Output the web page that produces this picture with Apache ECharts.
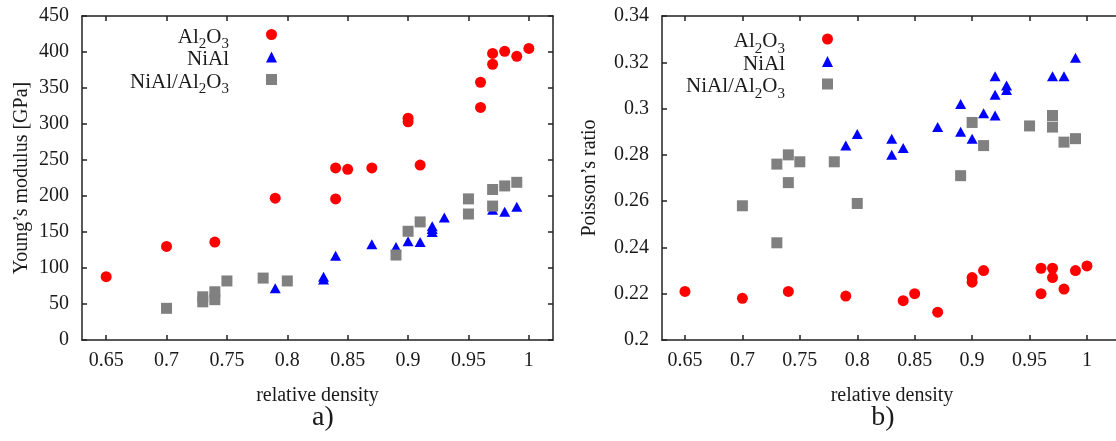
<!DOCTYPE html>
<html>
<head>
<meta charset="utf-8">
<title>Young's modulus and Poisson's ratio vs relative density</title>
<script src="https://cdn.jsdelivr.net/npm/echarts@6/dist/echarts.min.js"></script>
<style>
  html, body { margin: 0; padding: 0; background: #fff; }
  #chart { width: 1116px; height: 441px; }
</style>
</head>
<body>
<div id="chart"></div>
<script>
// ---- tick labels ----
const densityTicks = [0.65, 0.7, 0.75, 0.8, 0.85, 0.9, 0.95, 1];

// ---- a) Young's modulus [GPa] ----
const al2o3DensityE = [0.65, 0.70, 0.74, 0.79, 0.84, 0.84, 0.85, 0.87, 0.90, 0.90, 0.91, 0.96, 0.96, 0.97, 0.97, 0.98, 0.99, 1.00];
const al2o3Modulus  = [88, 130, 136, 197, 239, 196, 237, 239, 308, 303, 243, 358, 323, 398, 383, 401, 394, 405];

const nialDensityE = [0.79, 0.83, 0.83, 0.84, 0.87, 0.89, 0.90, 0.91, 0.92, 0.92, 0.92, 0.93, 0.97, 0.98, 0.99];
const nialModulus  = [72, 88, 84, 117, 133, 129, 137, 136, 158, 154, 150, 170, 181, 178, 185];

const compDensityE = [0.70, 0.73, 0.73, 0.74, 0.74, 0.75, 0.78, 0.80, 0.89, 0.90, 0.91, 0.95, 0.95, 0.97, 0.97, 0.98, 0.99];
const compModulus  = [44, 60, 53, 67, 56, 82, 86, 82, 118, 151, 164, 196, 175, 209, 186, 214, 219];

// ---- b) Poisson's ratio ----
const al2o3DensityNu = [0.65, 0.70, 0.74, 0.79, 0.84, 0.85, 0.87, 0.90, 0.90, 0.91, 0.96, 0.96, 0.97, 0.97, 0.98, 0.99, 1.00];
const al2o3Poisson   = [0.221, 0.218, 0.221, 0.219, 0.217, 0.220, 0.212, 0.227, 0.225, 0.230, 0.231, 0.220, 0.231, 0.227, 0.222, 0.230, 0.232];

const nialDensityNu = [0.79, 0.80, 0.83, 0.83, 0.84, 0.87, 0.89, 0.89, 0.90, 0.91, 0.92, 0.92, 0.92, 0.93, 0.93, 0.97, 0.98, 0.99];
const nialPoisson   = [0.284, 0.289, 0.287, 0.280, 0.283, 0.292, 0.302, 0.290, 0.287, 0.298, 0.314, 0.306, 0.297, 0.310, 0.308, 0.314, 0.314, 0.322];

const compDensityNu = [0.70, 0.73, 0.73, 0.74, 0.74, 0.75, 0.78, 0.80, 0.89, 0.90, 0.91, 0.95, 0.97, 0.97, 0.98, 0.99];
const compPoisson   = [0.258, 0.276, 0.242, 0.280, 0.268, 0.277, 0.277, 0.259, 0.271, 0.294, 0.284, 0.2925, 0.297, 0.292, 0.2855, 0.287];

const seriesNames = ['Al2O3', 'NiAl', 'NiAl/Al2O3'];

// ---- styling ----
const FONT = '"Liberation Serif", "DejaVu Serif", "Times New Roman", serif';
const INK = '#1a1a1a';
const FRAME = { color: '#222', width: 1.5 };
const RED = '#ff0000', BLUE = '#0000ff', GREY = '#808080';

const zip = (xs, ys) => xs.map((x, i) => [x, ys[i]]);

// chemical formulas with lowered subscripts; every entry has the same token
// structure so all legend rows get the same height
const richLabel = {
  n: { fontFamily: FONT, fontSize: 21, lineHeight: 30, color: INK },
  s: { fontFamily: FONT, fontSize: 15, lineHeight: 18, verticalAlign: 'bottom', color: INK }
};
const formulaText = name => {
  if (name === 'Al2O3') return '{n|Al}{s|2}{n|O}{s|3}';
  if (name === 'NiAl/Al2O3') return '{n|NiAl/Al}{s|2}{n|O}{s|3}';
  return '{n|' + name + '}{s|\u200b}';
};

function xAxes(gridIndex, max) {
  const common = {
    gridIndex, type: 'value', min: 0.63, max,
    splitLine: { show: false },
    axisLine: { show: true, onZero: false, lineStyle: FRAME },
    axisTick: { show: true, inside: true, length: 5, customValues: densityTicks, lineStyle: FRAME }
  };
  return [
    Object.assign({}, common, {
      position: 'bottom',
      axisLabel: {
        customValues: densityTicks, margin: 11,
        fontFamily: FONT, fontSize: 20, color: INK,
        formatter: v => String(+v.toFixed(2))
      },
      name: 'relative density', nameLocation: 'middle', nameGap: 46,
      nameTextStyle: { fontFamily: FONT, fontSize: 20, color: INK }
    }),
    Object.assign({}, common, { position: 'top', axisLabel: { show: false } })
  ];
}

function yAxes(gridIndex, min, max, interval, name, nameGap, digits) {
  const common = {
    gridIndex, type: 'value', min, max, interval,
    splitLine: { show: false },
    axisLine: { show: true, onZero: false, lineStyle: FRAME },
    axisTick: { show: true, inside: true, length: 5, lineStyle: FRAME }
  };
  return [
    Object.assign({}, common, {
      position: 'left',
      axisLabel: {
        margin: 13, fontFamily: FONT, fontSize: 20, color: INK,
        formatter: v => String(+v.toFixed(digits))
      },
      name, nameLocation: 'middle', nameGap,
      nameTextStyle: { fontFamily: FONT, fontSize: 20, color: INK }
    }),
    Object.assign({}, common, { position: 'right', axisLabel: { show: false } })
  ];
}

function scatter(name, data, xAxisIndex, yAxisIndex, symbol, size, color, z) {
  return {
    type: 'scatter', name, data, xAxisIndex, yAxisIndex,
    symbol, symbolSize: size, z,
    itemStyle: { color, opacity: 1 },
    emphasis: { disabled: true },
    animation: false
  };
}

function legendBox(right, top) {
  return {
    data: seriesNames,
    orient: 'vertical', align: 'right',
    right, top, padding: 0, itemGap: -3,
    itemWidth: 11, itemHeight: 11,
    selectedMode: false,
    formatter: formulaText,
    textStyle: { fontFamily: FONT, fontSize: 21, color: INK, padding: [5, 32, 0, 0], rich: richLabel }
  };
}

const option = {
  backgroundColor: '#ffffff',
  animation: false,
  grid: [
    { left: 82, top: 16, width: 471, height: 324, outerBoundsMode: 'none' },
    { left: 662, top: 16, width: 460, height: 324, outerBoundsMode: 'none' }
  ],
  xAxis: [].concat(xAxes(0, 1.02), xAxes(1, 1.0305)),
  yAxis: [].concat(
    yAxes(0, 0, 450, 50, 'Young\u2019s modulus [GPa]', 50, 0),
    yAxes(1, 0.2, 0.34, 0.02, 'Poisson\u2019s ratio', 62, 2)
  ),
  legend: [legendBox(839, 26.5), legendBox(283, 31)],
  series: [
    scatter('Al2O3', zip(al2o3DensityE, al2o3Modulus), 0, 0, 'circle', 11, RED, 2),
    scatter('NiAl', zip(nialDensityE, nialModulus), 0, 0, 'triangle', [11, 10], BLUE, 3),
    scatter('NiAl/Al2O3', zip(compDensityE, compModulus), 0, 0, 'rect', 11, GREY, 4),
    scatter('Al2O3', zip(al2o3DensityNu, al2o3Poisson), 2, 2, 'circle', 11, RED, 2),
    scatter('NiAl', zip(nialDensityNu, nialPoisson), 2, 2, 'triangle', [11, 10], BLUE, 3),
    scatter('NiAl/Al2O3', zip(compDensityNu, compPoisson), 2, 2, 'rect', 11, GREY, 4)
  ],
  graphic: [
    { type: 'text', x: 323, y: 418, style: { text: 'a)', font: '28px ' + FONT, fill: INK, textAlign: 'center', textVerticalAlign: 'middle' } },
    { type: 'text', x: 883, y: 418, style: { text: 'b)', font: '28px ' + FONT, fill: INK, textAlign: 'center', textVerticalAlign: 'middle' } }
  ]
};

const chart = echarts.init(document.getElementById('chart'), null, { renderer: 'canvas' });
chart.setOption(option);
</script>
</body>
</html>
